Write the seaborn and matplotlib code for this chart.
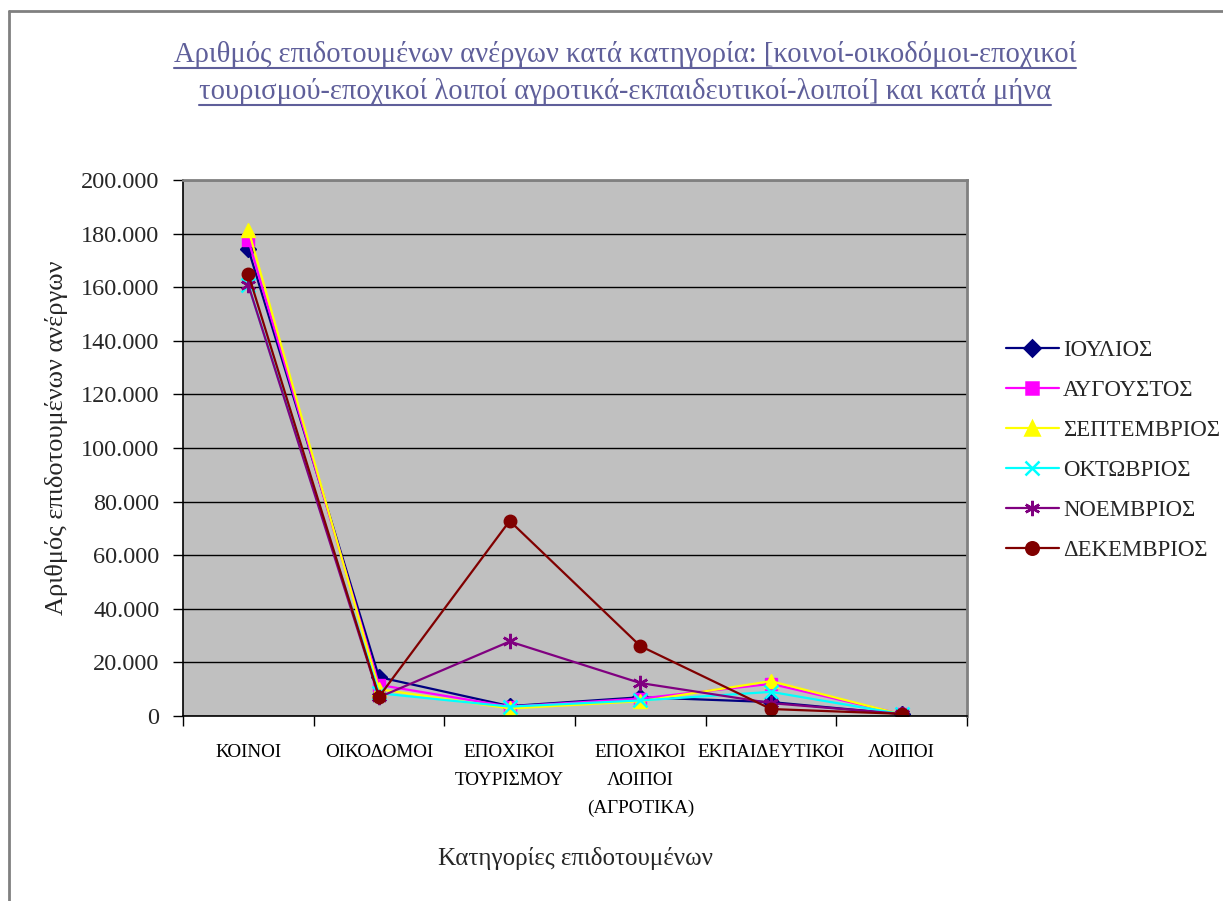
import numpy as np
import pandas as pd
import matplotlib
matplotlib.use("Agg")
import matplotlib.pyplot as plt
import seaborn as sns
from matplotlib.lines import Line2D
from matplotlib.ticker import FuncFormatter, FixedLocator

categories = ["ΚΟΙΝΟΙ", "ΟΙΚΟΔΟΜΟΙ", "ΕΠΟΧΙΚΟΙ\nΤΟΥΡΙΣΜΟΥ", "ΕΠΟΧΙΚΟΙ\nΛΟΙΠΟΙ\n(ΑΓΡΟΤΙΚΑ)",
              "ΕΚΠΑΙΔΕΥΤΙΚΟΙ", "ΛΟΙΠΟΙ"]
months = ["ΙΟΥΛΙΟΣ", "ΑΥΓΟΥΣΤΟΣ", "ΣΕΠΤΕΜΒΡΙΟΣ", "ΟΚΤΩΒΡΙΟΣ", "ΝΟΕΜΒΡΙΟΣ", "ΔΕΚΕΜΒΡΙΟΣ"]
july = [174200, 14500, 3700, 7000, 5200, 700]
august = [177600, 11600, 3500, 6500, 12000, 700]
september = [181500, 10000, 2800, 5500, 13000, 600]
october = [160800, 8500, 3500, 5800, 9000, 700]
november = [160800, 7000, 27800, 12300, 4800, 800]
december = [164900, 7200, 72800, 26100, 2600, 800]
series = [july, august, september, october, november, december]

colors = ["#000080", "#FF00FF", "#FFFF00", "#00FFFF", "#800080", "#800000"]
markers = ["D", "s", "^", "x", (6, 2, 0), "o"]
msizes = [8, 8, 10, 10, 11, 9]

sns.set_theme(style="white")
plt.rcParams["font.family"] = ["Liberation Serif", "DejaVu Serif"]

fig = plt.figure(figsize=(12.23, 9.01), dpi=100)
fig.patch.set_facecolor("white")
W, H = 1223, 901
ax = fig.add_axes([183 / W, 1 - 716 / H, (967 - 183) / W, (716 - 180) / H])
ax.set_facecolor("#C0C0C0")

for m, vals, c, mk, ms in zip(months, series, colors, markers, msizes):
    df = pd.DataFrame({"cat": categories, "val": vals})
    sns.lineplot(data=df, x="cat", y="val", ax=ax, color=c, marker=mk,
                 markersize=ms, markeredgecolor=c,
                 markeredgewidth=1.8 if (mk == "x" or isinstance(mk, tuple)) else 1,
                 linewidth=1.6, label=m, sort=False)

ax.set_xlim(-0.5, len(categories) - 0.5)
ax.set_ylim(0, 200000)
ax.yaxis.set_major_locator(FixedLocator(np.arange(0, 200001, 20000)))
ax.yaxis.set_major_formatter(FuncFormatter(lambda v, p: f"{v:,.0f}".replace(",", ".")))
ax.grid(axis="y", color="black", linewidth=1.0)
ax.set_axisbelow(True)

ax.xaxis.set_minor_locator(FixedLocator(np.arange(-0.5, len(categories), 1.0)))
ax.tick_params(axis="x", which="major", length=0, pad=20, labelsize=13.8, colors="black")
ax.tick_params(axis="x", which="minor", length=7, width=1, color="black", direction="out", bottom=True)
ax.tick_params(axis="y", which="major", length=7, width=1, color="black", direction="out", left=True,
               labelsize=17.5, pad=10)
for lab in ax.get_xticklabels():
    lab.set_linespacing(1.85)
    lab.set_verticalalignment("top")

for s in ["left", "bottom"]:
    ax.spines[s].set_color("black")
    ax.spines[s].set_linewidth(1.2)
for s in ["top", "right"]:
    ax.spines[s].set_color("#808080")
    ax.spines[s].set_linewidth(2)

ax.set_xlabel("")
ax.set_ylabel("")
fig.text(57 / W, 1 - 438 / H, "Αριθμός επιδοτουμένων ανέργων", rotation=90,
         ha="center", va="center", fontsize=19)
fig.text(575 / W, 1 - 858 / H, "Κατηγορίες επιδοτουμένων", ha="center", va="center", fontsize=18)

ax.legend_.remove()
handles = [Line2D([], [], color=c, marker=mk, markersize=ms, markeredgecolor=c,
                  markeredgewidth=1.8, linewidth=1.6) for c, mk, ms in zip(colors, markers, msizes)]
fig.legend(handles, months, loc="upper left", bbox_to_anchor=(997 / W, 1 - 331 / H),
           frameon=False, fontsize=16.4, handlelength=2.3, handletextpad=0.2,
           labelspacing=0.83, borderaxespad=0)

title_color = "#5F5F9A"
t1 = fig.text(625 / W, 1 - 62 / H, "Αριθμός επιδοτουμένων ανέργων κατά κατηγορία: [κοινοί-οικοδόμοι-εποχικοί",
              ha="center", va="baseline", fontsize=20.6, color=title_color)
t2 = fig.text(625 / W, 1 - 99 / H, "τουρισμού-εποχικοί λοιποί αγροτικά-εκπαιδευτικοί-λοιποί] και κατά μήνα",
              ha="center", va="baseline", fontsize=20.6, color=title_color)

fig.canvas.draw()
r = fig.canvas.get_renderer()
for t, yb in [(t1, 62), (t2, 99)]:
    bb = t.get_window_extent(renderer=r)
    y = 1 - (yb + 6) / H
    fig.add_artist(Line2D([bb.x0 / W, bb.x1 / W], [y, y], color=title_color, linewidth=1.5,
                          transform=fig.transFigure))

# outer chart border
fig.add_artist(Line2D([8.5 / W, 8.5 / W], [0, 1 - 11 / H], color="#808080", linewidth=2, transform=fig.transFigure))
fig.add_artist(Line2D([8.5 / W, 1], [1 - 11 / H, 1 - 11 / H], color="#808080", linewidth=2, transform=fig.transFigure))

fig.savefig("out.png", dpi=100, facecolor="white")
